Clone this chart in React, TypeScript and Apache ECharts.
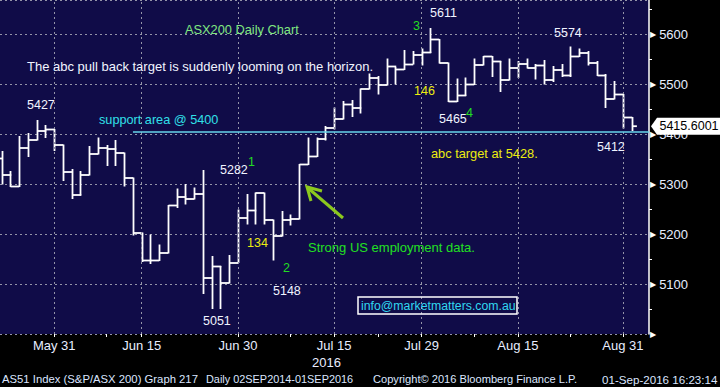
import React, { useEffect, useRef } from 'react';
import * as echarts from 'echarts';

// ---------- data ----------
const dates = [
  '2016-05-20', '2016-05-23', '2016-05-24', '2016-05-25', '2016-05-26', '2016-05-27', '2016-05-30', '2016-05-31',
  '2016-06-01', '2016-06-02', '2016-06-03', '2016-06-06', '2016-06-07', '2016-06-08', '2016-06-09', '2016-06-10',
  '2016-06-14', '2016-06-15', '2016-06-16', '2016-06-17', '2016-06-20', '2016-06-21', '2016-06-22', '2016-06-23',
  '2016-06-24', '2016-06-27', '2016-06-28', '2016-06-29', '2016-06-30', '2016-07-01', '2016-07-04', '2016-07-05',
  '2016-07-06', '2016-07-07', '2016-07-08', '2016-07-11', '2016-07-12', '2016-07-13', '2016-07-14', '2016-07-15',
  '2016-07-18', '2016-07-19', '2016-07-20', '2016-07-21', '2016-07-22', '2016-07-25', '2016-07-26', '2016-07-27',
  '2016-07-28', '2016-07-29', '2016-08-01', '2016-08-02', '2016-08-03', '2016-08-04', '2016-08-05', '2016-08-08',
  '2016-08-09', '2016-08-10', '2016-08-11', '2016-08-12', '2016-08-15', '2016-08-16', '2016-08-17', '2016-08-18',
  '2016-08-19', '2016-08-22', '2016-08-23', '2016-08-24', '2016-08-25', '2016-08-26', '2016-08-29', '2016-08-30',
  '2016-08-31', '2016-09-01',
];
const highs = [
  5362, 5365, 5325, 5395, 5401, 5427, 5417, 5409, 5378, 5329, 5325, 5375, 5392, 5377, 5387, 5362,
  5312, 5202, 5198, 5178, 5257, 5290, 5299, 5292, 5327, 5155, 5135, 5157, 5248, 5279, 5282, 5282,
  5228, 5245, 5238, 5339, 5392, 5392, 5415, 5452, 5465, 5467, 5490, 5520, 5515, 5550, 5533, 5567,
  5565, 5570, 5611, 5589, 5542, 5510, 5512, 5550, 5555, 5555, 5545, 5550, 5545, 5550, 5539, 5547,
  5535, 5539, 5574, 5570, 5565, 5545, 5519, 5505, 5479, 5433,
];
const lows = [
  5340, 5300, 5295, 5295, 5355, 5388, 5393, 5367, 5307, 5271, 5278, 5318, 5360, 5337, 5337, 5296,
  5198, 5145, 5141, 5147, 5162, 5253, 5260, 5270, 5081, 5051, 5051, 5102, 5143, 5220, 5220, 5220,
  5148, 5196, 5218, 5230, 5339, 5355, 5388, 5410, 5430, 5435, 5442, 5490, 5480, 5498, 5500, 5529,
  5540, 5538, 5563, 5542, 5465, 5465, 5477, 5499, 5538, 5515, 5485, 5508, 5513, 5532, 5510, 5500,
  5505, 5515, 5515, 5555, 5538, 5517, 5453, 5470, 5412, 5407,
];
const closes = [
  5351, 5318, 5295, 5372, 5388, 5406, 5409, 5378, 5324, 5278, 5318, 5360, 5372, 5370, 5362, 5312,
  5202, 5147, 5147, 5162, 5257, 5274, 5270, 5280, 5112, 5135, 5102, 5142, 5232, 5247, 5282, 5228,
  5196, 5228, 5230, 5339, 5355, 5390, 5412, 5430, 5459, 5452, 5490, 5512, 5498, 5535, 5529, 5539,
  5558, 5563, 5589, 5542, 5465, 5477, 5499, 5538, 5555, 5545, 5508, 5532, 5540, 5532, 5537, 5508,
  5528, 5517, 5555, 5562, 5542, 5517, 5470, 5479, 5433, 5415.6001,
];
const labelDates = ['2016-05-31', '2016-06-15', '2016-06-30', '2016-07-15', '2016-07-29', '2016-08-15', '2016-08-31'];
const tickDates = ['2016-05-31', '2016-06-08', '2016-06-15', '2016-06-30', '2016-07-08', '2016-07-15', '2016-07-22',
  '2016-07-29', '2016-08-08', '2016-08-15', '2016-08-23', '2016-08-31'];
const yMin = 5000;
const yMax = 5668;
const yStep = 100;
const supportLevel = 5404;
const supportFrom = '2016-06-14';
const lastPrice = 5415.6001;

const MONTHS = ['Jan', 'Feb', 'Mar', 'Apr', 'May', 'Jun', 'Jul', 'Aug', 'Sep', 'Oct', 'Nov', 'Dec'];
const FONT = '"Liberation Sans", Arial, sans-serif';

const idx = (d: string) => dates.indexOf(d);
const fmtDate = (d: string) => {
  const [, m, day] = d.split('-');
  return `${MONTHS[Number(m) - 1]} ${Number(day)}`;
};

const X_MIN = 0.806;
const X_MAX = 74.977;

function txt(text: string, x: number, y: number, color: string, size = 13, extra: any = {}) {
  return {
    type: 'text', x, y, silent: true, z: 100,
    style: { text, fill: color, font: `${size}px ${FONT}`, align: 'left', verticalAlign: 'middle' },
    ...extra,
  };
}

export default function App() {
  const ref = useRef<HTMLDivElement>(null);
  useEffect(() => {
    if (!ref.current) return;
    const chart = echarts.init(ref.current, undefined, { renderer: 'svg' });
    const lastIndex = dates.length - 1;
    const barData = dates.map((d, k) => [k, highs[k], lows[k], closes[k]]);

    const option: any = {
      animation: false,
      backgroundColor: '#000000',
      grid: {
        left: 0, right: 71, top: 0, bottom: 53,
        show: true, backgroundColor: '#100c48', borderWidth: 0,
      },
      xAxis: {
        type: 'value', min: X_MIN, max: X_MAX,
        splitLine: { show: false },
        axisLine: { show: false },
        axisTick: {
          show: true, length: 3, customValues: tickDates.map(idx),
          lineStyle: { color: '#ffffff', width: 1 },
        },
        axisLabel: {
          customValues: labelDates.map(idx),
          formatter: (v: number) => fmtDate(dates[Math.round(v)]),
          color: '#e8eeff', fontSize: 13, fontFamily: FONT, margin: 5,
        },
      },
      yAxis: {
        type: 'value', position: 'right', min: yMin, max: yMax, interval: yStep,
        axisLine: { show: true, lineStyle: { color: '#ffffff', width: 1.5 } },
        axisTick: { show: false },
        minorTick: { show: true, splitNumber: 2, length: 3, lineStyle: { color: '#ffffff', width: 1 } },
        splitLine: { show: true, lineStyle: { color: '#9494a8', type: [2, 3], width: 1 } },
        axisLabel: {
          showMinLabel: true, showMaxLabel: false, margin: 1,
          formatter: (v: number) => {
            if (v % 100 !== 0 || v > 5600) return '';
            return v === yMin ? '{t|▶}' : `{t|▶}{v|${v}}`;
          },
          rich: {
            t: { fontSize: 8, color: '#ffffff', fontFamily: 'DejaVu Sans', padding: [0, 3, 0, 0] },
            v: { fontSize: 13, color: '#e8eeff', fontFamily: FONT },
          },
        },
      },
      series: [
        {
          type: 'line', data: [], z: 1, silent: true,
          markLine: {
            silent: true, symbol: ['none', 'none'], label: { show: false },
            lineStyle: { color: '#9494a8', type: [2, 3], width: 1 },
            data: labelDates.map((d) => ({ xAxis: idx(d) })),
          },
        },
        {
          type: 'custom', z: 3, clip: true, silent: true,
          data: barData,
          renderItem: (params: any, api: any) => {
            const k = api.value(0);
            const top = api.coord([k, api.value(1)]);
            const bot = api.coord([k, api.value(2)]);
            const cl = api.coord([k, api.value(3)]);
            const w = api.size([1, 0])[0];
            const tick = params.dataIndex === lastIndex ? w * 0.5 : w;
            const x = Math.round(top[0]) + 0.5;
            const style = { stroke: '#ffffff', lineWidth: 1.8 };
            return {
              type: 'group',
              children: [
                { type: 'line', shape: { x1: x, y1: top[1] - 0.5, x2: x, y2: bot[1] + 0.5 }, style },
                { type: 'line', shape: { x1: x, y1: cl[1], x2: x + tick, y2: cl[1] }, style },
              ],
            };
          },
        },
        {
          type: 'line', data: [], z: 5, silent: true,
          markLine: {
            silent: true, symbol: ['none', 'none'], label: { show: false },
            lineStyle: { color: '#66d4ea', type: 'solid', width: 1.5 },
            data: [[{ coord: [idx(supportFrom), supportLevel] }, { coord: [X_MAX, supportLevel] }]],
          },
          markPoint: {
            silent: true,
            data: [{
              coord: [X_MAX, lastPrice],
              symbol: 'path://M0,8L6,0L70,0L70,16L6,16Z',
              symbolSize: [70, 17],
              symbolKeepAspect: false,
              symbolOffset: [37, 0],
              itemStyle: { color: '#ffffff' },
              label: {
                show: true, position: 'inside', formatter: String(lastPrice),
                color: '#000000', fontSize: 12.5, fontFamily: FONT, offset: [3, 0],
              },
            }],
          },
        },
      ],
      graphic: {
        elements: [
          txt('ASX200 Daily Chart', 185, 29, '#80e880', 12.8),
          txt('The abc pull back target is suddenly looming on the horizon.', 27, 66, '#f0f4ff', 13),
          txt('5427', 27, 105, '#f0f4ff', 12.5),
          txt('support area @ 5400', 99, 120, '#30e0e8', 12.7),
          txt('5282', 220, 170, '#f0f4ff', 12.5),
          txt('1', 248, 162, '#22dd22', 12.5),
          txt('134', 247, 243, '#ecec10', 12.5),
          txt('2', 283, 268, '#22dd22', 12.5),
          txt('5148', 273, 291, '#f0f4ff', 12.5),
          txt('5051', 203, 321, '#f0f4ff', 12.5),
          txt('Strong US employment data.', 308, 247, '#22e022', 13),
          txt('3', 413, 26, '#22dd22', 12.5),
          txt('5611', 430, 13, '#f0f4ff', 12.5),
          txt('146', 414, 91, '#ecec10', 12.5),
          txt('5465', 439, 119, '#f0f4ff', 12.5),
          txt('4', 466, 113, '#22dd22', 12.5),
          txt('abc target at 5428.', 431, 153, '#ecec10', 12.8),
          txt('5574', 554, 33, '#f0f4ff', 12.5),
          txt('5412', 597, 147, '#f0f4ff', 12.5),
          {
            type: 'rect', silent: true, z: 100,
            shape: { x: 358, y: 297, width: 159, height: 17 },
            style: { fill: 'none', stroke: '#ffffff', lineWidth: 1.5 },
          },
          txt('info@marketmatters.com.au', 361, 305.5, '#30d8f0', 12.3),
          {
            type: 'polyline', silent: true, z: 100,
            shape: { points: [[343, 218], [308, 188]] },
            style: { stroke: '#8cc81e', lineWidth: 3, fill: 'none' },
          },
          {
            type: 'polyline', silent: true, z: 100,
            shape: { points: [[322, 191], [307, 187], [311, 201]] },
            style: { stroke: '#8cc81e', lineWidth: 3, fill: 'none' },
          },
          txt('2016', 312, 362, '#e8eeff', 13),
          txt('AS51 Index (S&P/ASX 200) Graph 217', 2, 379, '#dce6ff', 11.3),
          txt('Daily 02SEP2014-01SEP2016', 206, 379, '#dce6ff', 10.9),
          txt('Copyright\u00A9 2016 Bloomberg Finance L.P.', 373, 379, '#dce6ff', 11.1),
          txt('01-Sep-2016 16:23:14', 602, 379, '#dce6ff', 11.6),
        ],
      },
    };
    chart.setOption(option);
    return () => chart.dispose();
  }, []);
  return (
    <div
      ref={ref}
      style={{ position: 'absolute', left: 0, top: 0, width: 720, height: 387, background: '#000' }}
    />
  );
}
